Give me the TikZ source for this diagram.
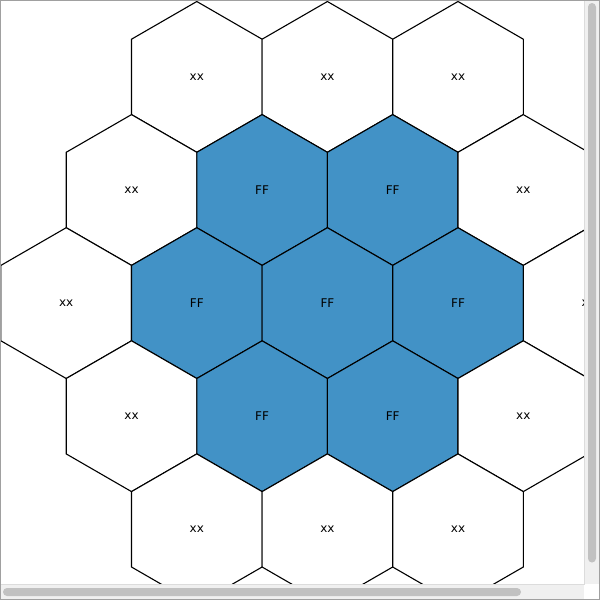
\documentclass[tikz,border=0pt]{standalone}
\usepackage{fontspec}
\setmainfont{DejaVu Sans}
\usetikzlibrary{shapes.geometric}
\definecolor{hexblue}{RGB}{66,146,198}
\definecolor{frame}{RGB}{160,160,160}
\definecolor{track}{RGB}{240,240,240}
\definecolor{thumb}{RGB}{193,193,193}
\definecolor{trackedge}{RGB}{220,220,220}
\tikzset{
  hexcell/.style={regular polygon, regular polygon sides=6, shape border rotate=30,
    minimum size=150.8pt, inner sep=0pt, outer sep=0pt, draw=black, line width=1.1pt,
    font=\fontsize{12}{14}\selectfont},
  hexw/.style={hexcell, fill=white},
  hexb/.style={hexcell, fill=hexblue},
  trackbox/.style={fill=track, draw=none},
  thumbbar/.style={fill=thumb, draw=none, rounded corners=4pt},
}
\begin{document}
\begin{tikzpicture}[x=1pt,y=-1pt]
\useasboundingbox (0,0) rectangle (600,600);
\fill[white] (0,0) rectangle (600,600);
\begin{scope}
\clip (1,1) rectangle (584,584);
% row -2
\node[hexw] (h00) at (196.8,76.9) {xx};
\node[hexw] (h01) at (327.4,76.9) {xx};
\node[hexw] (h02) at (458.0,76.9) {xx};
% row -1
\node[hexw] (h10) at (131.5,190.0) {xx};
\node[hexb] (h11) at (262.1,190.0) {FF};
\node[hexb] (h12) at (392.7,190.0) {FF};
\node[hexw] (h13) at (523.3,190.0) {xx};
% row 0
\node[hexw] (h20) at (66.2,303.1) {xx};
\node[hexb] (h21) at (196.8,303.1) {FF};
\node[hexb] (h22) at (327.4,303.1) {FF};
\node[hexb] (h23) at (458.0,303.1) {FF};
\node[hexw] (h24) at (588.6,303.1) {xx};
% row 1
\node[hexw] (h30) at (131.5,416.2) {xx};
\node[hexb] (h31) at (262.1,416.2) {FF};
\node[hexb] (h32) at (392.7,416.2) {FF};
\node[hexw] (h33) at (523.3,416.2) {xx};
% row 2
\node[hexw] (h40) at (196.8,529.3) {xx};
\node[hexw] (h41) at (327.4,529.3) {xx};
\node[hexw] (h42) at (458.0,529.3) {xx};
\end{scope}
% scrollbars
\fill[trackbox] (584,1) rectangle (599,584);
\fill[trackbox] (1,584) rectangle (584,599);
\draw[trackedge, line width=0.8pt] (584.4,1) -- (584.4,584.4) -- (1,584.4);
\fill[white] (584.8,584.8) rectangle (599,599);
\fill[thumbbar] (588,3) rectangle (596,562.5);
\fill[thumbbar] (3,588) rectangle (521,596);
\draw[frame, line width=1pt] (0.5,0.5) rectangle (599.5,599.5);
\end{tikzpicture}
\end{document}
